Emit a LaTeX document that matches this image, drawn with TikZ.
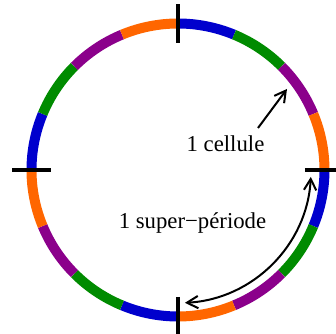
\documentclass[tikz,border=0pt]{standalone}
\usepackage{fontspec}
\setmainfont{Liberation Serif}
\usetikzlibrary{arrows.meta}
\definecolor{ringblue}{RGB}{0,0,205}
\definecolor{ringgreen}{RGB}{0,139,0}
\definecolor{ringpurple}{RGB}{139,0,139}
\definecolor{ringorange}{RGB}{255,102,0}
\tikzset{
    ring/.style={line width=0.2cm},
    tickmark/.style={line width=0.09cm},
    lbl/.style={font=\fontsize{12.95}{15}\selectfont},
    barb/.tip={Straight Barb[length=6.3pt,width=7pt]},
    arr/.style={line width=0.04cm,-barb},
    dblarr/.style={line width=0.04cm,barb-barb},
}
\begin{document}
\begin{tikzpicture}[x=0.02cm,y=0.02cm]
    \useasboundingbox (-178,-164) rectangle (158,170);
    % coloured ring, four cells per quarter
    \foreach \q in {0,90,180,270} {
        \foreach \c [count=\i from 0] in {ringblue,ringgreen,ringpurple,ringorange} {
            \draw[ring,\c] ({90-\q-22.5*\i}:146.5) arc[start angle={90-\q-22.5*\i}, delta angle=-22.5, radius=146.5];
        }
    }
    \foreach \a in {0,90,180,270} {
        \draw[tickmark] (\a:127) -- (\a:166);
    }
    \node[lbl] (cellule) at (47.5,26) {1 cellule};
    \node[lbl] (superperiode) at (14.5,-52.6) {1 super−période};
    \coordinate (celltail) at (80,42);
    \coordinate (celltip) at (109,81);
    \draw[arr] (celltail) -- (celltip);
    \coordinate (periodstart) at (-3:133);
    \draw[dblarr] (periodstart) arc[start angle=-3, end angle=-87, radius=133];
\end{tikzpicture}
\end{document}
